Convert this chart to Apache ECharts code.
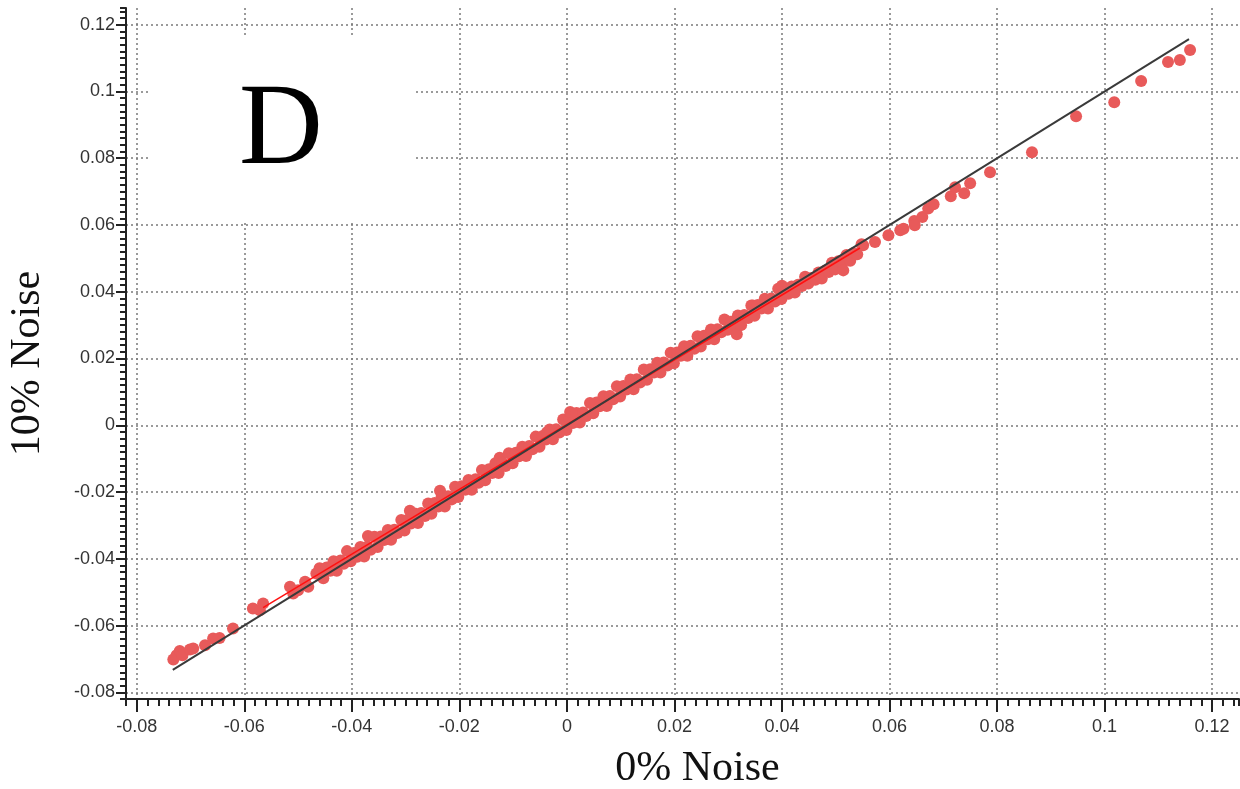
<!DOCTYPE html>
<html>
<head>
<meta charset="utf-8">
<title>D - 10% Noise vs 0% Noise</title>
<script src="https://cdn.jsdelivr.net/npm/echarts@6/dist/echarts.min.js"></script>
<style>
  html, body { margin: 0; padding: 0; background: #fff; }
  #scatter-chart { width: 1240px; height: 789px; }
</style>
</head>
<body>
<div id="scatter-chart"></div>
<script>
// axis ranges and tick labels
var axisMin = -0.082;
var axisMax = 0.125;
var majorTicks = [-0.08, -0.06, -0.04, -0.02, 0, 0.02, 0.04, 0.06, 0.08, 0.1, 0.12];
var minorStep = 0.002;

// points below -0.046 (sparse tail)
var tailLow = [
  [-0.0732, -0.0702], [-0.0726, -0.0689], [-0.0720, -0.0676], [-0.0715, -0.0689],
  [-0.0701, -0.0672], [-0.0695, -0.0669], [-0.0673, -0.0659], [-0.0658, -0.0639],
  [-0.0646, -0.0637], [-0.0621, -0.0609], [-0.0584, -0.0549], [-0.0571, -0.0554],
  [-0.0565, -0.0534], [-0.0515, -0.0484], [-0.0509, -0.0504], [-0.0500, -0.0494],
  [-0.0487, -0.0469], [-0.0481, -0.0484], [-0.0466, -0.0444], [-0.0453, -0.0434],
  [-0.0435, -0.0419]
];

// dense band of points
var band = [
  [-0.0460, -0.0428], [-0.0453, -0.0458], [-0.0447, -0.0426], [-0.0440, -0.0436],
  [-0.0434, -0.0407], [-0.0428, -0.0436], [-0.0421, -0.0405], [-0.0415, -0.0415],
  [-0.0409, -0.0377], [-0.0402, -0.0407], [-0.0396, -0.0383], [-0.0390, -0.0394],
  [-0.0384, -0.0365], [-0.0377, -0.0393], [-0.0371, -0.0363], [-0.0370, -0.0332],
  [-0.0365, -0.0373], [-0.0358, -0.0334], [-0.0352, -0.0365], [-0.0346, -0.0333],
  [-0.0340, -0.0344], [-0.0333, -0.0314], [-0.0327, -0.0343], [-0.0321, -0.0313],
  [-0.0315, -0.0323], [-0.0308, -0.0284], [-0.0302, -0.0315], [-0.0296, -0.0283],
  [-0.0292, -0.0256], [-0.0290, -0.0294], [-0.0283, -0.0264], [-0.0277, -0.0293],
  [-0.0271, -0.0263], [-0.0264, -0.0272], [-0.0258, -0.0234], [-0.0252, -0.0265],
  [-0.0246, -0.0233], [-0.0239, -0.0243], [-0.0236, -0.0196], [-0.0233, -0.0214],
  [-0.0227, -0.0243], [-0.0221, -0.0213], [-0.0214, -0.0222], [-0.0208, -0.0184],
  [-0.0202, -0.0215], [-0.0196, -0.0183], [-0.0189, -0.0193], [-0.0183, -0.0164],
  [-0.0177, -0.0193], [-0.0170, -0.0162], [-0.0164, -0.0172], [-0.0158, -0.0134],
  [-0.0152, -0.0165], [-0.0145, -0.0132], [-0.0139, -0.0143], [-0.0133, -0.0114],
  [-0.0127, -0.0143], [-0.0125, -0.0097], [-0.0120, -0.0112], [-0.0114, -0.0122],
  [-0.0108, -0.0084], [-0.0101, -0.0114], [-0.0095, -0.0082], [-0.0089, -0.0093],
  [-0.0083, -0.0064], [-0.0076, -0.0092], [-0.0070, -0.0062], [-0.0064, -0.0072],
  [-0.0058, -0.0034], [-0.0051, -0.0064], [-0.0045, -0.0032], [-0.0039, -0.0043],
  [-0.0037, -0.0021], [-0.0032, -0.0013], [-0.0026, -0.0042], [-0.0020, -0.0012],
  [-0.0014, -0.0022], [-0.0007, 0.0017], [-0.0001, -0.0014], [0.0005, 0.0018],
  [0.0006, 0.0040], [0.0011, 0.0007], [0.0018, 0.0037], [0.0024, 0.0008],
  [0.0030, 0.0038], [0.0036, 0.0028], [0.0043, 0.0067], [0.0049, 0.0036],
  [0.0055, 0.0068], [0.0061, 0.0057], [0.0068, 0.0087], [0.0074, 0.0058],
  [0.0080, 0.0088], [0.0086, 0.0078], [0.0093, 0.0117], [0.0099, 0.0086],
  [0.0105, 0.0118], [0.0111, 0.0107], [0.0118, 0.0137], [0.0124, 0.0108],
  [0.0130, 0.0138], [0.0136, 0.0128], [0.0143, 0.0167], [0.0149, 0.0136],
  [0.0155, 0.0168], [0.0162, 0.0158], [0.0168, 0.0187], [0.0174, 0.0158],
  [0.0180, 0.0188], [0.0187, 0.0179], [0.0193, 0.0217], [0.0199, 0.0186],
  [0.0205, 0.0218], [0.0212, 0.0208], [0.0218, 0.0237], [0.0224, 0.0208],
  [0.0230, 0.0238], [0.0237, 0.0229], [0.0243, 0.0267], [0.0249, 0.0236],
  [0.0255, 0.0268], [0.0262, 0.0258], [0.0268, 0.0287], [0.0274, 0.0258],
  [0.0280, 0.0288], [0.0287, 0.0279], [0.0293, 0.0317], [0.0299, 0.0286],
  [0.0305, 0.0310], [0.0312, 0.0300], [0.0316, 0.0273], [0.0318, 0.0329],
  [0.0324, 0.0300], [0.0330, 0.0330], [0.0337, 0.0321], [0.0343, 0.0359],
  [0.0346, 0.0359], [0.0349, 0.0328], [0.0355, 0.0360], [0.0362, 0.0350],
  [0.0368, 0.0379], [0.0374, 0.0350], [0.0380, 0.0380], [0.0387, 0.0371],
  [0.0393, 0.0409], [0.0399, 0.0378], [0.0400, 0.0418], [0.0405, 0.0399],
  [0.0412, 0.0394], [0.0418, 0.0416], [0.0424, 0.0398], [0.0430, 0.0421],
  [0.0437, 0.0417], [0.0443, 0.0445], [0.0449, 0.0425], [0.0455, 0.0441],
  [0.0462, 0.0436], [0.0468, 0.0458], [0.0474, 0.0440], [0.0480, 0.0463],
  [0.0487, 0.0459], [0.0493, 0.0487], [0.0499, 0.0467], [0.0505, 0.0491],
  [0.0512, 0.0486], [0.0514, 0.0464], [0.0520, 0.0510], [0.0527, 0.0493],
  [0.0533, 0.0516], [0.0540, 0.0512], [0.0548, 0.0542]
];

// points above 0.055 (sparse tail)
var tailHigh = [
  [0.0551, 0.0539], [0.0573, 0.0549], [0.0598, 0.0569], [0.0620, 0.0584],
  [0.0626, 0.0589], [0.0646, 0.0612], [0.0647, 0.0599], [0.0661, 0.0624],
  [0.0672, 0.0649], [0.0682, 0.0662], [0.0714, 0.0686], [0.0722, 0.0713],
  [0.0739, 0.0695], [0.0750, 0.0725], [0.0787, 0.0758], [0.0865, 0.0818],
  [0.0947, 0.0926], [0.1018, 0.0968], [0.1068, 0.1031], [0.1118, 0.1088],
  [0.1140, 0.1094], [0.1159, 0.1124]
];

// fitted line (red) and y = x line (black)
var fitLine = [[-0.0565, -0.0546], [0.0545, 0.0531]];
var identityLine = [[-0.0733, -0.0733], [0.1157, 0.1157]];

var chartDom = document.getElementById("scatter-chart");
var myChart = echarts.init(chartDom);
var option;

var labelStyle = {
  color: "#333",
  fontSize: 18,
  fontFamily: "Liberation Sans",
};
var gridLine = {
  show: true,
  lineStyle: { color: "#7a7a7a", width: 1.5, type: [2, 3] },
};
var blackLine = { color: "#222", width: 2 };

option = {
  animation: false,
  backgroundColor: "#fff",
  grid: { left: 126, right: 1, top: 8, bottom: 90, outerBoundsMode: "none" },
  graphic: [
    {
      type: "rect",
      z: 100,
      shape: { x: 150, y: 35, width: 265, height: 185 },
      style: { fill: "#fff" },
    },
    {
      type: "text",
      z: 101,
      style: {
        x: 281,
        y: 133,
        text: "D",
        font: "116px 'Liberation Serif'",
        fill: "#000",
        textAlign: "center",
        textVerticalAlign: "middle",
      },
    },
  ],
  xAxis: [
    {
      type: "value",
      min: axisMin,
      max: axisMax,
      position: "bottom",
      name: "0% Noise",
      nameLocation: "middle",
      nameGap: 49,
      nameTextStyle: {
        fontFamily: "Liberation Serif",
        fontSize: 42,
        color: "#111",
        padding: [0, 0, 0, 30],
      },
      axisLine: { show: true, onZero: false, lineStyle: blackLine },
      axisTick: { customValues: majorTicks, length: 13, lineStyle: blackLine },
      axisLabel: Object.assign({ customValues: majorTicks, margin: 19 }, labelStyle),
      splitLine: gridLine,
    },
    {
      type: "value",
      min: axisMin,
      max: axisMax,
      interval: minorStep,
      position: "bottom",
      axisLine: { show: false, onZero: false },
      axisTick: { length: 7, lineStyle: blackLine },
      axisLabel: { show: false },
      splitLine: { show: false },
    },
  ],
  yAxis: [
    {
      type: "value",
      min: axisMin,
      max: axisMax,
      position: "left",
      name: "10% Noise",
      nameLocation: "middle",
      nameGap: 77,
      nameTextStyle: {
        fontFamily: "Liberation Serif",
        fontSize: 42,
        color: "#111",
        padding: [0, 20, 0, 0],
      },
      axisLine: { show: true, onZero: false, lineStyle: blackLine },
      axisTick: { customValues: majorTicks, length: 10, lineStyle: blackLine },
      axisLabel: Object.assign({ customValues: majorTicks, margin: 11 }, labelStyle),
      splitLine: gridLine,
    },
    {
      type: "value",
      min: axisMin,
      max: axisMax,
      interval: minorStep,
      position: "left",
      axisLine: { show: false, onZero: false },
      axisTick: { length: 6, lineStyle: blackLine },
      axisLabel: { show: false },
      splitLine: { show: false },
    },
  ],
  series: [
    {
      name: "points",
      type: "scatter",
      xAxisIndex: 0,
      yAxisIndex: 0,
      symbolSize: 12,
      itemStyle: { color: "#e85a5a", opacity: 1 },
      data: tailLow.concat(band, tailHigh),
      z: 2,
    },
    {
      name: "fit",
      type: "line",
      xAxisIndex: 0,
      yAxisIndex: 0,
      showSymbol: false,
      symbol: "none",
      lineStyle: { color: "#ff1010", width: 1.5 },
      data: fitLine,
      z: 3,
    },
    {
      name: "y = x",
      type: "line",
      xAxisIndex: 0,
      yAxisIndex: 0,
      showSymbol: false,
      symbol: "none",
      lineStyle: { color: "#3a3a3a", width: 2 },
      data: identityLine,
      z: 4,
    },
  ],
};

option && myChart.setOption(option);
</script>
</body>
</html>
